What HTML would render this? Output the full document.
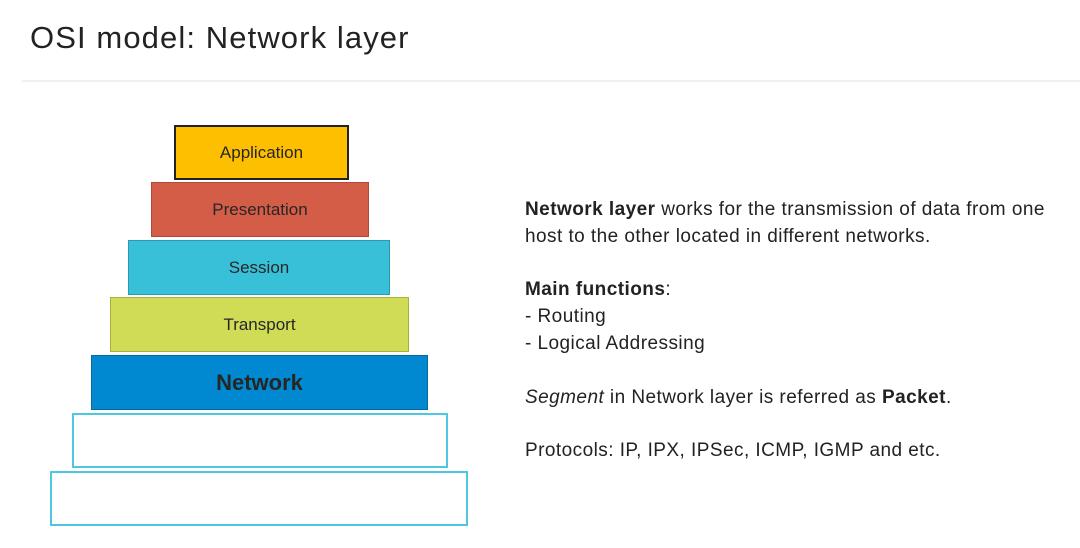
<!DOCTYPE html>
<html><head><meta charset="utf-8"><style>
body{margin:0;width:1080px;height:548px;background:#fff;position:relative;overflow:hidden;font-family:"Liberation Sans",sans-serif;}
.t{position:absolute;left:30px;top:20px;font-size:31px;color:#222;letter-spacing:1.1px;}
.hr{position:absolute;left:22px;right:0;top:80px;height:2px;background:#f0f0f0;}
.b{position:absolute;box-sizing:border-box;display:flex;align-items:center;justify-content:center;font-size:17px;color:#262626;}
.txt{position:absolute;left:525px;top:197px;font-size:19px;letter-spacing:0.45px;line-height:26.8px;color:#222;white-space:nowrap;}
</style></head><body>
<div class="t">OSI model: Network layer</div>
<div class="hr"></div>
<div class="b" style="left:174px;top:125px;width:175px;height:55px;background:#fdbf00;border:2px solid #222;">Application</div>
<div class="b" style="left:151px;top:182px;width:218px;height:55px;background:#d45d48;border:1.5px solid #b04a38;">Presentation</div>
<div class="b" style="left:128px;top:240px;width:262px;height:55px;background:#38c0d8;border:1.5px solid #2b9ab0;">Session</div>
<div class="b" style="left:110px;top:297px;width:299px;height:55px;background:#d0dc55;border:1.5px solid #a8b040;">Transport</div>
<div class="b" style="left:91px;top:355px;width:337px;height:55px;background:#0089d0;border:1.5px solid #0a6a9a;font-size:22px;font-weight:bold;">Network</div>
<div class="b" style="left:72px;top:413px;width:376px;height:55px;background:#fff;border:2px solid #4ec8e0;"></div>
<div class="b" style="left:50px;top:471px;width:418px;height:55px;background:#fff;border:2px solid #4ec8e0;"></div>
<div class="txt"><b>Network layer</b> works for the transmission of data from one<br>host to the other located in different networks.<br><br><b>Main functions</b>:<br>- Routing<br>- Logical Addressing<br><br><i>Segment</i> in Network layer is referred as <b>Packet</b>.<br><br>Protocols: IP, IPX, IPSec, ICMP, IGMP and etc.</div>
</body></html>
